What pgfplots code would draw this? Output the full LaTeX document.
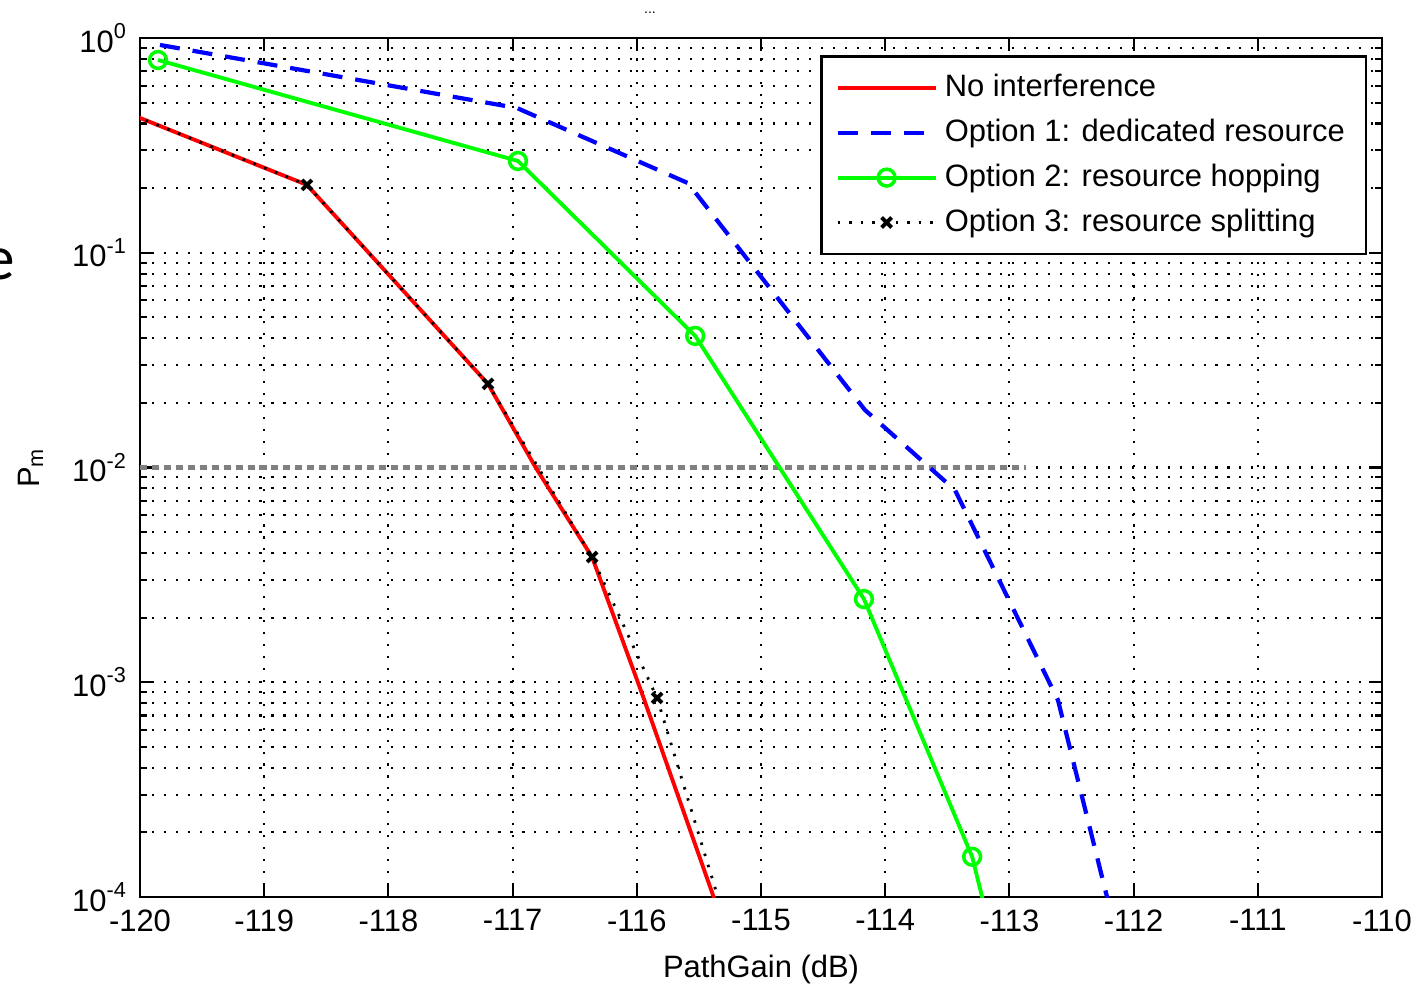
\documentclass[border=0pt]{standalone}
\usepackage{fontspec}
\setmainfont{Liberation Sans}
\newfontfamily\slidefont{Carlito}
\usepackage{pgfplots}
\pgfplotsset{compat=1.18}

\definecolor{mred}{RGB}{255,0,0}
\definecolor{mblue}{RGB}{0,0,255}
\definecolor{mgreen}{RGB}{0,255,0}

\begin{document}
\begin{tikzpicture}
\begin{axis}[
    name=ax,
    width=12.42cm, height=8.59cm, scale only axis,
    xmin=-120, xmax=-110,
    ymode=log, ymin=1e-4, ymax=1,
    xtick={-120,-119,...,-110},
    xticklabels={-120,-119,-118,-117,-116,-115,-114,-113,-112,-111,-110},
    ytick={1e-4,1e-3,1e-2,1e-1,1},
    yticklabels={10\textsuperscript{-4},10\textsuperscript{-3},10\textsuperscript{-2},10\textsuperscript{-1},10\textsuperscript{0}},
    font=\fontsize{8.8}{10.5}\selectfont,
    tick align=inside,
    major tick length=3.7pt, minor tick length=2pt,
    tick style={black, line width=0.6pt},
    grid=both,
    major grid style={black, line width=0.6pt, dash pattern=on 0.6pt off 2.8pt},
    minor grid style={black, line width=0.6pt, dash pattern=on 0.6pt off 2.8pt},
    axis line style={line width=0.7pt},
    xlabel={PathGain (dB)},
    ylabel={P\textsubscript{m}},
    ylabel style={at={(axis description cs:-0.068,0.5)}, anchor=south},
    clip marker paths=true,
    legend cell align=left,
    legend image code/.code={\draw[mark repeat=2,mark phase=2,#1] plot coordinates {(0cm,0cm) (0.49cm,0cm) (0.98cm,0cm)};},
    legend style={at={(0.988,0.980)}, anchor=north east, draw=black, line width=0.7pt,
        font=\fontsize{8.8}{10.5}\selectfont, row sep=0.9pt, inner xsep=4pt, inner ysep=3pt},
]

% 10^-2 reference line
\addplot[forget plot, gray, line width=1.3pt, dash pattern=on 2pt off 1.4pt] coordinates {(-120,0.01) (-112.87,0.01)};

\addplot[mred, line width=1.1pt] coordinates {
(-120.3,0.498) (-118.656,0.207) (-117.198,0.0245) (-116.812,0.00995)
(-116.36,0.00383) (-115.95,0.000860) (-115.33,0.0000824)
};
\addlegendentry{No interference}

\addplot[mblue, line width=1.2pt, dash pattern=on 5.7pt off 3.7pt] coordinates {
(-119.839,0.928) (-116.965,0.472) (-115.588,0.211) (-114.163,0.01853)
(-113.438,0.00785) (-112.609,0.000826) (-112.174,0.0000807)
};
\addlegendentry{Option 1: dedicated resource}

\addplot[mgreen, line width=1.1pt, mark=o, mark size=2.4pt, mark options={solid, line width=1pt}] coordinates {
(-119.855,0.79) (-116.957,0.2675) (-115.53,0.041) (-114.171,0.00244)
(-113.30,0.000154) (-112.61,0.0000038)
};
\addlegendentry{Option 2: resource hopping}

\addplot[black, line width=0.8pt, dash pattern=on 0.7pt off 2.6pt, mark=x, mark size=2pt, mark options={solid, line width=1.1pt}] coordinates {
(-120.3,0.498) (-118.656,0.207) (-117.198,0.0245) (-116.36,0.00383)
(-115.837,0.000845) (-115.298,0.0000807)
};
\addlegendentry{Option 3: resource splitting}

\end{axis}
\node[font=\fontsize{4}{4}\selectfont, inner sep=0] at ([xshift=5.10cm,yshift=0.25cm]ax.north west) {...};
\node[font=\slidefont\fontsize{18}{20}\selectfont, anchor=base west, inner sep=0] at ([xshift=-1.57cm,yshift=6.17cm]ax.south west) {e};
\pgfresetboundingbox
\path ([xshift=-1.40cm,yshift=-0.87cm]ax.south west) rectangle ([xshift=0.33cm,yshift=0.38cm]ax.north east);
\end{tikzpicture}
\end{document}
